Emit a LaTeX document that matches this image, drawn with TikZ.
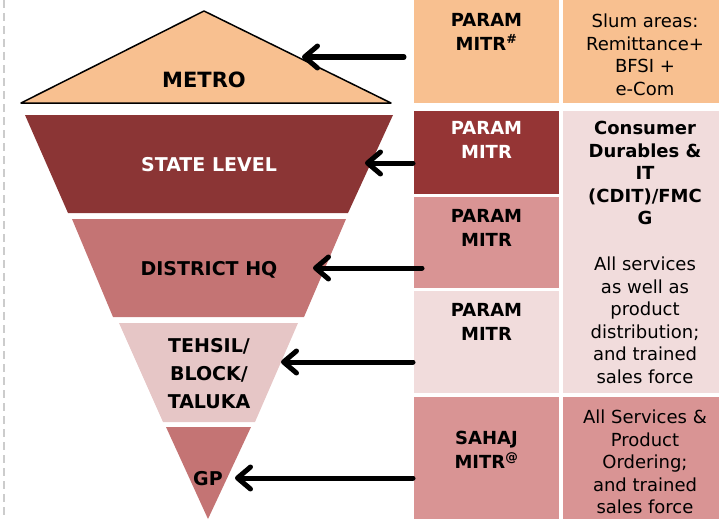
\documentclass[tikz,border=0pt]{standalone}
\usepackage{fontspec}
\setmainfont{DejaVu Sans}
\usetikzlibrary{arrows.meta}
\definecolor{metroC}{HTML}{F8C090}
\definecolor{stateC}{HTML}{8B3535}
\definecolor{darkbox}{HTML}{953535}
\definecolor{midC}{HTML}{C47474}
\definecolor{midbox}{HTML}{D99494}
\definecolor{lightC}{HTML}{E6C6C6}
\definecolor{lightbox}{HTML}{F1DCDC}
\definecolor{dashC}{HTML}{CCCCCC}
\begin{document}
\begin{tikzpicture}[x=1pt,y=-1pt,
  lbl/.style={font=\fontsize{18}{23.5}\selectfont\bfseries, align=center, anchor=base, inner sep=0pt},
  flbl/.style={font=\fontsize{19}{28}\selectfont\bfseries, align=center, anchor=base, inner sep=0pt},
  txt/.style={font=\fontsize{18}{22.5}\selectfont, align=center, anchor=base, inner sep=0pt},
  btxt/.style={font=\fontsize{18}{22.5}\selectfont\bfseries, align=center, anchor=base, inner sep=0pt},
  cell/.style={anchor=north west, inner sep=0pt, outer sep=0pt, draw=none},
  arr/.style={line width=5pt, line cap=round, -{Straight Barb[length=13pt,width=22pt,round]}}]
\useasboundingbox (0,0) rectangle (719,519);
% left dashed rule
\draw[dashC, line width=2pt, dash pattern=on 8pt off 5pt] (4,0) -- (4,519);
% right-hand cells
\node[cell, fill=metroC, minimum width=145pt, minimum height=103pt] (c11) at (414,0) {};
\node[cell, fill=metroC, minimum width=156pt, minimum height=103pt] (c12) at (563,0) {};
\node[cell, fill=darkbox, minimum width=145pt, minimum height=83pt] (c21) at (414,111) {};
\node[cell, fill=midbox, minimum width=145pt, minimum height=91pt] (c31) at (414,197) {};
\node[cell, fill=lightbox, minimum width=145pt, minimum height=102pt] (c41) at (414,291) {};
\node[cell, fill=lightbox, minimum width=156pt, minimum height=282pt] (c22) at (563,111) {};
\node[cell, fill=midbox, minimum width=145pt, minimum height=122pt] (c51) at (414,397) {};
\node[cell, fill=midbox, minimum width=156pt, minimum height=122pt] (c52) at (563,397) {};
% funnel
\draw[fill=metroC, line width=1.5pt, line join=round] (21,103) -- (204,11) -- (391,103) -- cycle;
\fill[stateC] (25,115) -- (393,115) -- (348,213) -- (68,213) -- cycle;
\fill[midC] (72,219) -- (346,219) -- (304,317) -- (113,317) -- cycle;
\fill[lightC] (119,323) -- (298,323) -- (255,422) -- (163,422) -- cycle;
\fill[midC] (166,427) -- (251,427) -- (208,519) -- cycle;
% funnel labels (anchor=base is the baseline of the last line)
\node[flbl, font=\fontsize{21}{25}\selectfont\bfseries] (metro) at (204,87.7) {METRO};
\node[flbl, text=white] (state) at (209,171) {STATE LEVEL};
\node[flbl] (district) at (209,275) {DISTRICT HQ};
\node[flbl] (tehsil) at (209,408) {TEHSIL/\\BLOCK/\\TALUKA};
\node[flbl] (gp) at (208,485) {GP};
% cell texts
\node[lbl] (t11) at (486.5,50) {PARAM\\MITR\textsuperscript{\#}};
\node[txt] (t12) at (645,95) {Slum areas:\\Remittance+\\BFSI +\\e-Com};
\node[lbl, text=white] (t21) at (486.5,158) {PARAM\\MITR};
\node[lbl] (t31) at (486.5,246) {PARAM\\MITR};
\node[lbl] (t41) at (486.5,340) {PARAM\\MITR};
\node[btxt] (t22) at (645,224.5) {Consumer\\Durables \&\\IT\\(CDIT)/FMC\\G};
\node[txt] (t22b) at (645,383) {All services\\as well as\\product\\distribution;\\and trained\\sales force};
\node[lbl] (t51) at (486.5,468) {SAHAJ\\MITR\textsuperscript{@}};
\node[txt] (t52) at (645,513.5) {All Services \&\\Product\\Ordering;\\and trained\\sales force};
% arrow end points
\coordinate (a1s) at (404,57);  \coordinate (a1e) at (302,57);
\coordinate (a2s) at (413,163); \coordinate (a2e) at (365,163);
\coordinate (a3s) at (422,268); \coordinate (a3e) at (313,268);
\coordinate (a4s) at (413,362); \coordinate (a4e) at (281,362);
\coordinate (a5s) at (413,478); \coordinate (a5e) at (235,478);
\draw[arr] (a1s) -- (a1e);
\draw[arr] (a2s) -- (a2e);
\draw[arr] (a3s) -- (a3e);
\draw[arr] (a4s) -- (a4e);
\draw[arr] (a5s) -- (a5e);
\end{tikzpicture}
\end{document}
